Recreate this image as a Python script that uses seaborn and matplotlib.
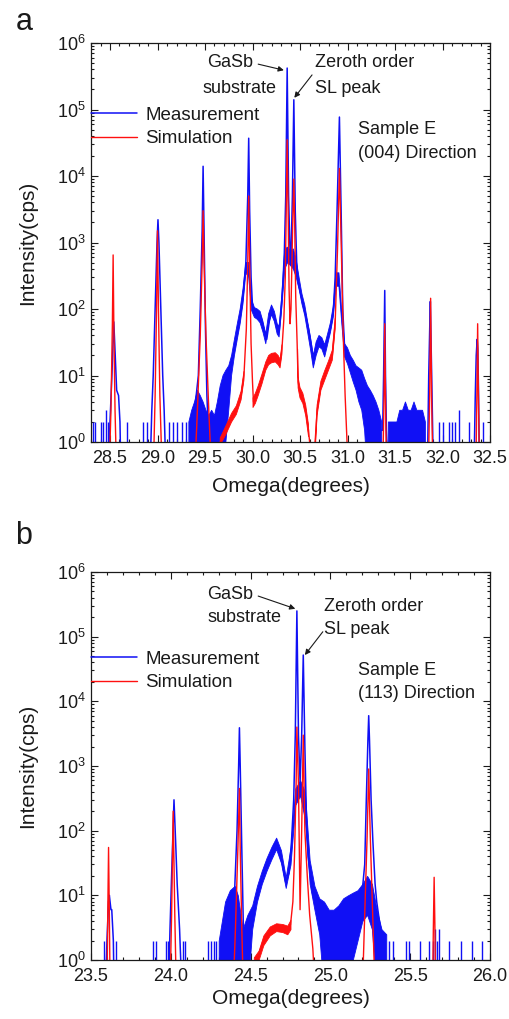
import numpy as np
import matplotlib
matplotlib.use("Agg")
import matplotlib.pyplot as plt
import seaborn as sns
from matplotlib.ticker import MultipleLocator, LogLocator, NullFormatter, FormatStrFormatter

# ---------------- data ----------------
# Panel a : (004) direction
a_meas_x = [28.48, 28.50, 28.52, 28.54, 28.555, 28.57, 28.59, 28.605, 28.615,
            28.92, 28.94, 28.955, 28.975, 28.995, 29.005, 29.015, 29.035, 29.055, 29.07, 29.09,
            29.34, 29.36, 29.38, 29.40, 29.43, 29.45, 29.47, 29.48, 29.49, 29.505, 29.52, 29.535,
            29.56, 29.60, 29.65, 29.70, 29.74, 29.78, 29.82, 29.86, 29.90, 29.93, 29.95, 29.96,
            29.97, 29.985, 30.00, 30.03, 30.06, 30.09, 30.12, 30.15, 30.18, 30.20, 30.23, 30.26,
            30.28, 30.30, 30.32, 30.335, 30.35, 30.365, 30.38, 30.395, 30.405, 30.42, 30.435,
            30.45, 30.465, 30.48, 30.52, 30.56, 30.59, 30.62, 30.64, 30.67, 30.70, 30.73, 30.76,
            30.79, 30.82, 30.85, 30.87, 30.89, 30.915, 30.935, 30.95, 30.97, 31.00, 31.05, 31.10,
            31.15, 31.20, 31.25, 31.30, 31.34, 31.37, 31.38, 31.392, 31.40, 31.41, 31.43,
            31.84, 31.855, 31.865, 31.872, 31.88, 31.89, 31.905,
            32.33, 32.345, 32.355, 32.365, 32.372, 32.38, 32.39]
a_meas_y = [0.3, 2, 10, 64, 20, 6, 5, 2, 0.3,
            0.3, 3, 10, 100, 1000, 2200, 1000, 100, 10, 3, 0.3,
            0.3, 2, 3, 4, 10, 100, 1500, 14000, 1500, 50, 5, 1.5,
            1.5, 1.5, 2, 3.5, 7, 15, 30, 60, 150, 500, 5000, 37000,
            3000, 300, 110, 85, 80, 75, 50, 35, 70, 95, 75, 50,
            45, 90, 250, 700, 5000, 420000, 5000, 700, 600, 5000, 140000,
            3000, 500, 250, 140, 80, 50, 28, 16, 25, 32, 30, 24,
            35, 50, 90, 300, 3000, 77000, 2000, 100, 25, 20, 14, 10,
            7, 4, 3, 2, 1.5, 1.5, 10, 190, 10, 1.5, 0.3,
            0.3, 10, 48, 130, 30, 5, 0.3,
            0.3, 5, 20, 35, 25, 5, 0.3]
a_band_x = [29.33, 29.36, 29.39, 29.42, 29.45, 29.48, 29.51, 29.54, 29.57, 29.60, 29.63,
            29.66, 29.69, 29.72, 29.75, 29.78, 29.81, 29.84, 29.87, 29.90, 29.93, 29.96,
            29.99, 30.02, 30.05, 30.08, 30.11, 30.14, 30.17, 30.20, 30.23, 30.26, 30.28,
            30.31, 30.34, 30.37, 30.40, 30.43, 30.46, 30.49, 30.52, 30.55, 30.58, 30.61,
            30.64, 30.67, 30.70, 30.73, 30.76, 30.79, 30.82, 30.85, 30.88, 30.91, 30.94,
            30.97, 31.00, 31.03, 31.06, 31.09, 31.12, 31.15, 31.18, 31.21, 31.24, 31.27,
            31.30, 31.33, 31.36, np.nan,
            31.43, 31.46, 31.49, 31.52, 31.55, 31.58, 31.61, 31.64, 31.67, 31.70, 31.73,
            31.76, 31.79, 31.82]
a_band_lo = [0.3, 0.3, 0.3, 0.3, 0.3, 0.3, 0.3, 0.3, 0.3, 0.3, 0.3,
             0.3, 0.3, 1, 3, 10, 20, 35, 60, 120, 350, 300,
             95, 75, 70, 62, 45, 30, 60, 82, 65, 42, 38,
             110, 400, 500, 450, 400, 300, 200, 120, 80, 45, 25,
             13, 20, 27, 25, 19, 29, 44, 75, 220, 220, 60,
             19, 15, 11, 8, 6, 4, 3, 1.5, 0.3, 0.3, 0.3,
             0.3, 0.3, 0.3, np.nan,
             0.3, 0.3, 0.3, 0.3, 0.3, 0.3, 0.3, 0.3, 0.3, 0.3, 0.3,
             0.3, 0.3, 0.3]
a_band_hi = [2, 3, 4, 6, 5, 4, 3, 2.5, 3, 2.5, 4,
             7, 10, 12, 14, 20, 35, 60, 100, 200, 500, 500,
             140, 105, 100, 92, 65, 42, 85, 115, 92, 60, 55,
             170, 800, 850, 750, 800, 550, 300, 170, 115, 65, 38,
             20, 32, 40, 37, 29, 42, 62, 110, 350, 350, 90,
             30, 26, 20, 17, 14, 13, 12, 9, 7, 6, 5,
             4, 3, 2, np.nan,
             2, 2, 2, 2, 3, 3, 4, 3, 3, 4, 3,
             3, 3, 2]
a_spike_x = [28.32, 28.34, 28.40, 28.425, 28.455, 28.475, 28.68, 28.85, 28.89,
             29.12, 29.16, 29.21, 29.26, 29.30, 31.96, 32.01, 32.07, 32.10,
             32.13, 32.17, 32.28, 32.43]
a_spike_y = [2, 2, 2, 2, 3, 2, 2, 2, 2,
             2, 2, 2, 2, 2, 2, 2, 2, 2,
             2, 3, 2, 2]
a_sim_x = [28.30, 28.49, 28.51, 28.525, 28.533, 28.54, 28.553, 28.57,
           28.955, 28.975, 28.99, 29.00, 29.01, 29.025, 29.05,
           29.39, 29.42, 29.45, 29.47, 29.48, 29.49, 29.51, 29.54, 29.57,
           29.62, 29.66, 29.72, 29.78, 29.83, 29.88, 29.91, 29.935, 29.95, 29.96, 29.97,
           29.985, 30.00, 30.01, 30.03, 30.06, 30.10, 30.14, 30.17, 30.20, 30.24, 30.27,
           30.29, 30.31, 30.33, 30.345, 30.355, 30.365, 30.375, 30.385, 30.395, 30.405,
           30.415, 30.425, 30.435, 30.445, 30.455, 30.47, 30.48, 30.50, 30.53, 30.56,
           30.59, 30.62, 30.64, 30.655, 30.68, 30.72, 30.76, 30.80, 30.84, 30.87, 30.895,
           30.915, 30.935, 30.955, 30.975, 30.995, 31.01,
           31.37, 31.385, 31.392, 31.40, 31.41,
           31.85, 31.865, 31.875, 31.885, 31.90,
           32.35, 32.362, 32.37, 32.378, 32.39, 32.50]
a_sim_y = [0.3, 0.3, 3, 60, 650, 60, 3, 0.3,
           0.3, 5, 100, 1500, 100, 5, 0.3,
           0.3, 3, 40, 500, 3000, 500, 40, 3, 0.3,
           0.3, 1.0, 1.5, 2.3, 3, 5, 10, 50, 500, 5000, 500,
           30, 8, 4, 4.5, 6, 9, 14, 17, 18, 19, 17,
           15, 25, 70, 300, 3000, 35000, 3000, 200, 60, 100,
           500, 2500, 9000, 1500, 150, 30, 8, 5.5, 4.5, 3,
           1.5, 0.5, 0.3, 0.8, 3, 7, 10, 14, 20, 60, 800,
           13000, 800, 40, 5, 1, 0.3,
           0.3, 5, 60, 5, 0.3,
           0.3, 5, 145, 5, 0.3,
           0.3, 5, 60, 5, 0.3, 0.3]
a_simband_x = [29.66, 29.72, 29.78, 29.83, 29.88, 29.91, np.nan,
               30.005, 30.03, 30.06, 30.10, 30.14, 30.17, 30.20, 30.24, 30.27, 30.29, 30.31, np.nan,
               30.475, 30.48, 30.50, 30.53, 30.56, 30.59, np.nan,
               30.66, 30.68, 30.72, 30.76, 30.80, 30.84, 30.87]
a_simband_lo = [0.9, 1.3, 2.0, 2.6, 4.3, 8.5, np.nan,
                3.3, 3.8, 5, 7.5, 12, 14.5, 15.5, 16, 14.5, 13, 21, np.nan,
                15, 6.5, 4.6, 3.8, 2.5, 1.2, np.nan,
                0.7, 2.5, 6, 8.5, 12, 17, 50]
a_simband_hi = [1.15, 1.75, 2.7, 3.5, 5.8, 11.5, np.nan,
                4.6, 5.4, 7, 10.5, 16, 20, 21.5, 22, 20, 17.5, 29, np.nan,
                25, 9.5, 6.6, 5.4, 3.6, 1.8, np.nan,
                1.0, 3.6, 8.2, 11.8, 16.5, 24, 72]

# Panel b : (113) direction
b_meas_x = [23.59, 23.60, 23.61, 23.615, 23.625, 23.63, 23.64, 23.645,
            23.985, 23.995, 24.005, 24.02, 24.03, 24.04, 24.055, 24.07,
            24.385, 24.39, 24.40, 24.415, 24.425, 24.43, 24.435, 24.445, 24.455, 24.47,
            24.50, 24.53,
            24.56, 24.59, 24.62, 24.65, 24.67, 24.70, 24.72, 24.74, 24.755, 24.77, 24.78,
            24.79, 24.80, 24.81, 24.82, 24.83, 24.84, 24.85, 24.86, 24.89, 24.92, 24.96,
            25.00, 25.04, 25.08, 25.12, 25.16, 25.20, 25.215, 25.225, 25.235, 25.24, 25.245,
            25.255, 25.266, 25.28, 25.29, 25.31, 25.33, 25.35]
b_meas_y = [0.3, 2, 8, 10, 6, 6, 2, 0.3,
            0.3, 3, 20, 300, 70, 15, 3, 0.3,
            0.3, 8, 12, 100, 1000, 3900, 1000, 50, 3, 1.5,
            3, 8,
            15, 28, 40, 62, 55, 30, 16, 22, 60, 300, 3000,
            250000, 3000, 550, 3000, 52000, 2000, 150, 40, 10, 6, 3.5,
            3, 3.5, 5, 6, 7, 12, 30, 300, 2500, 6000, 2500,
            300, 70, 15, 8, 3.6, 2, 0.3]
b_band_x = [24.30, 24.32, 24.34, 24.37, 24.40, 24.42, 24.45, 24.48,
            24.51, 24.54, 24.57, 24.60, 24.63, 24.66, 24.69, 24.72, 24.75, 24.78,
            24.81, 24.84, 24.87, 24.90, 24.93, 24.96, 24.99, 25.02, 25.05, 25.08,
            25.11, 25.14, 25.17, 25.20, 25.23, 25.26, 25.29, 25.32, 25.35]
b_band_lo = [0.3, 0.3, 0.3, 0.3, 0.3, 0.3, 0.3, 0.3,
             3, 8, 15, 24, 36, 52, 32, 13, 30, 250,
             350, 150, 15, 6, 2.5, 0.3, 0.3, 0.3, 0.3, 0.3,
             0.3, 1, 2, 4, 5, 3, 0.3, 0.3, 0.3]
b_band_hi = [2, 4, 8, 12, 14, 10, 3, 5,
             7, 14, 24, 38, 56, 78, 50, 19, 55, 450,
             600, 400, 35, 14, 9, 8, 6, 6, 7, 9,
             10, 11, 12, 15, 20, 15, 6, 3, 2.5]
b_spike_x = [23.58, 23.655, 23.89, 23.91, 23.97, 23.98, 24.075, 24.09,
             24.23, 24.25, 24.27, 24.285,
             25.37, 25.39, 25.475, 25.49, 25.56, 25.62, 25.645, 25.655, 25.67, 25.68,
             25.745, 25.82, 25.89, 25.95]
b_spike_y = [2, 2, 2, 2, 2, 2, 2, 2,
             2, 2, 2, 2,
             2, 2, 2, 2, 2, 2, 2, 3, 2, 3,
             2, 2, 2, 2]
b_sim_x = [23.50, 23.60, 23.605, 23.61, 23.615, 23.62,
           23.995, 24.005, 24.015, 24.025, 24.035,
           24.39, 24.405, 24.42, 24.43, 24.435, 24.445, 24.455,
           24.52, 24.55, 24.58, 24.62, 24.66, 24.70, 24.73, 24.75, 24.765, 24.775,
           24.785, 24.79, 24.80, 24.81, 24.82, 24.83, 24.84, 24.855, 24.87, 24.89, 24.905,
           25.20, 25.215, 25.23, 25.24, 25.25, 25.265, 25.28,
           25.64, 25.645, 25.65, 25.655, 25.66, 26.00]
b_sim_y = [0.3, 0.3, 5, 55, 5, 0.3,
           0.3, 5, 200, 5, 0.3,
           0.3, 3, 50, 450, 50, 3, 0.3,
           0.3, 1.2, 2, 2.8, 3.2, 3.1, 2.9, 3.5, 8, 40,
           500, 4000, 500, 6, 100, 3000, 100, 20, 5, 1.5, 0.3,
           0.3, 5, 80, 900, 80, 5, 0.3,
           0.3, 3, 19, 3, 0.3, 0.3]
b_simband_x = [24.52, 24.55, 24.58, 24.62, 24.66, 24.70, 24.73, 24.75]
b_simband_lo = [0.8, 1.0, 1.7, 2.4, 2.8, 2.7, 2.5, 3.0]
b_simband_hi = [1.1, 1.4, 2.4, 3.3, 3.7, 3.6, 3.4, 4.2]

# ---------------- style ----------------
BLUE = "#1010f5"
RED = "#ff1010"
INK = "#1a1a1a"

sns.set_theme(style="ticks")
plt.rcParams["font.family"] = ["Liberation Sans", "DejaVu Sans"]
plt.rcParams["mathtext.fontset"] = "custom"
plt.rcParams["mathtext.rm"] = "Liberation Sans"
plt.rcParams["mathtext.it"] = "Liberation Sans:italic"
plt.rcParams["mathtext.bf"] = "Liberation Sans:bold"

W, H = 509, 1019
fig = plt.figure(figsize=(W / 100, H / 100), dpi=100)
fig.patch.set_facecolor("white")

axa = fig.add_axes([91 / W, 1 - 442 / H, 399 / W, 399 / H])
axb = fig.add_axes([91 / W, 1 - 960 / H, 399 / W, 388 / H])


def draw(ax, mx, my, bx, blo, bhi, sx, sy, rx, ry, rbx, rblo, rbhi, xlim, xticks, xlpad):
    ax.set_yscale("log")
    ax.fill_between(bx, blo, bhi, color=BLUE, lw=0.6, edgecolor=BLUE)
    ax.vlines(sx, 0.3, sy, color=BLUE, lw=1.0)
    sns.lineplot(x=mx, y=my, sort=False, estimator=None, color=BLUE, lw=1.1,
                 ax=ax, label="Measurement")
    ax.fill_between(rbx, rblo, rbhi, color=RED, lw=0.6, edgecolor=RED)
    sns.lineplot(x=rx, y=ry, sort=False, estimator=None, color=RED, lw=1.0,
                 ax=ax, label="Simulation")
    ax.set_xlim(*xlim)
    ax.set_ylim(1, 1e6)
    ax.set_xticks(xticks)
    ax.xaxis.set_major_formatter(FormatStrFormatter("%.1f"))
    ax.xaxis.set_minor_locator(MultipleLocator(0.1))
    ax.yaxis.set_major_locator(LogLocator(base=10, numticks=10))
    ax.yaxis.set_minor_locator(LogLocator(base=10, subs=np.arange(2, 10), numticks=20))
    ax.yaxis.set_minor_formatter(NullFormatter())
    ax.tick_params(which="both", direction="in", top=True, right=True,
                   colors=INK, labelcolor=INK, labelsize=13, width=0.8)
    ax.tick_params(which="major", length=5, pad=4)
    ax.tick_params(axis="x", which="major", pad=6)
    ax.tick_params(which="minor", length=2.5)
    for s in ax.spines.values():
        s.set_visible(True)
        s.set_linewidth(0.9)
        s.set_color(INK)
    ax.set_xlabel("Omega(degrees)", fontsize=15, color=INK, labelpad=xlpad)
    ax.set_ylabel("Intensity(cps)", fontsize=15, color=INK, labelpad=14)
    ax.grid(False)


draw(axa, a_meas_x, a_meas_y, a_band_x, a_band_lo, a_band_hi, a_spike_x, a_spike_y,
     a_sim_x, a_sim_y, a_simband_x, a_simband_lo, a_simband_hi,
     (28.3, 32.5), [28.5, 29.0, 29.5, 30.0, 30.5, 31.0, 31.5, 32.0, 32.5], 7)
draw(axb, b_meas_x, b_meas_y, b_band_x, b_band_lo, b_band_hi, b_spike_x, b_spike_y,
     b_sim_x, b_sim_y, b_simband_x, b_simband_lo, b_simband_hi,
     (23.5, 26.0), [23.5, 24.0, 24.5, 25.0, 25.5, 26.0], 3)

# legends
for ax, ytop in ((axa, 0.84), (axb, 0.797)):
    leg = ax.legend(loc="upper left", bbox_to_anchor=(0.0, ytop), frameon=False,
                    borderaxespad=0, borderpad=0, handlelength=2.45,
                    handletextpad=0.45, labelspacing=0.33, fontsize=13.5)
    for t in leg.get_texts():
        t.set_color(INK)

txt = dict(fontsize=13, color=INK, va="center")
arrow = dict(arrowstyle="-|>", color=INK, lw=0.8, mutation_scale=8, shrinkA=0, shrinkB=0)

# panel a annotations
axa.text(0.348, 0.952, "GaSb", transform=axa.transAxes, ha="center", **txt)
axa.text(0.373, 0.887, "substrate", transform=axa.transAxes, ha="center", **txt)
axa.text(0.561, 0.952, "Zeroth order", transform=axa.transAxes, ha="left", **txt)
axa.text(0.561, 0.887, "SL peak", transform=axa.transAxes, ha="left", **txt)
axa.text(0.669, 0.782, "Sample E", transform=axa.transAxes, ha="left", **txt)
axa.text(0.669, 0.722, "(004) Direction", transform=axa.transAxes, ha="left", **txt)
axa.annotate("", xy=(30.33, 3.9e5), xycoords="data", xytext=(0.419, 0.947),
             textcoords="axes fraction", arrowprops=arrow)
axa.annotate("", xy=(30.44, 1.5e5), xycoords="data", xytext=(0.554, 0.92),
             textcoords="axes fraction", arrowprops=arrow)

# panel b annotations
axb.text(0.291, 0.941, "GaSb", transform=axb.transAxes, ha="left", **txt)
axb.text(0.291, 0.884, "substrate", transform=axb.transAxes, ha="left", **txt)
axb.text(0.584, 0.912, "Zeroth order", transform=axb.transAxes, ha="left", **txt)
axb.text(0.584, 0.851, "SL peak", transform=axb.transAxes, ha="left", **txt)
axb.text(0.669, 0.747, "Sample E", transform=axb.transAxes, ha="left", **txt)
axb.text(0.669, 0.686, "(113) Direction", transform=axb.transAxes, ha="left", **txt)
axb.annotate("", xy=(24.78, 2.7e5), xycoords="data", xytext=(0.419, 0.938),
             textcoords="axes fraction", arrowprops=arrow)
axb.annotate("", xy=(24.84, 5.2e4), xycoords="data", xytext=(0.581, 0.846),
             textcoords="axes fraction", arrowprops=arrow)

# panel letters
fig.text(24 / W, 1 - 22 / H, "a", fontsize=22, color=INK, ha="center", va="center")
fig.text(24 / W, 1 - 536 / H, "b", fontsize=22, color=INK, ha="center", va="center")

fig.savefig("out.png", dpi=100, facecolor="white")
